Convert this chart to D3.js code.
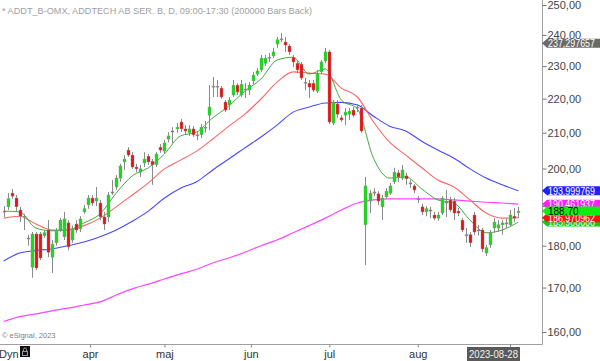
<!DOCTYPE html>
<html><head><meta charset="utf-8">
<script src="https://cdn.jsdelivr.net/npm/d3@7"></script>
<style>body{margin:0;background:#fff;} svg{display:block;font-family:"Liberation Sans",Arial,sans-serif;}</style>
</head><body><svg id="c" width="600" height="361"></svg>
<script>
const opens = [
188.5,189.8,193.4,192.1,189.0,187.4,181.7,174.8,182.9,182.9,
182.5,183.9,177.2,180.7,183.9,182.2,185.7,181.4,185.4,184.2,
188.5,190.3,192.1,191.3,190.8,187.2,187.2,193.4,195.0,197.4,
201.8,205.1,203.7,200.4,199.0,201.5,203.4,202.0,201.0,205.9,
204.8,208.2,210.2,211.1,213.1,211.1,210.0,211.1,209.4,209.4,
211.4,215.1,223.5,223.8,223.2,219.0,218.1,221.1,224.1,221.1,
222.9,222.6,225.4,227.5,228.8,230.9,232.5,233.2,237.0,238.4,
237.7,236.4,232.8,230.9,230.6,225.0,224.7,224.7,222.3,228.2,
231.6,234.5,212.8,218.4,214.3,215.1,215.4,216.6,217.2,217.2,
185.2,191.3,193.4,193.2,189.8,192.4,193.4,196.4,198.8,197.4,
198.0,196.1,195.3,191.9,189.8,188.5,189.0,187.7,186.9,188.2,
190.8,191.6,191.3,188.7,186.4,182.7,182.7,187.7,183.7,183.9,
178.2,180.2,184.4,184.4,185.2,185.4,185.2,187.4,188.3];
const highs = [
190.0,193.4,194.5,192.9,189.8,188.0,182.7,183.4,183.4,183.4,
183.7,186.4,181.4,184.4,186.9,188.5,186.4,185.0,186.4,187.4,
190.3,192.9,192.9,195.0,191.6,188.5,193.7,196.9,198.2,201.3,
203.7,205.9,204.5,201.3,201.0,204.5,204.0,202.6,204.5,206.8,
207.9,210.2,211.6,212.8,214.0,212.2,212.2,211.9,210.5,212.5,
213.4,224.1,226.6,225.7,223.8,219.6,220.5,225.7,224.7,225.7,
224.7,225.0,228.2,229.4,233.5,233.5,234.1,235.8,239.3,240.6,
239.3,237.0,233.5,231.9,231.3,226.3,225.7,225.7,228.8,231.9,
235.8,235.1,219.6,219.6,215.1,217.2,217.2,217.5,218.4,218.1,
197.7,194.2,194.7,193.9,192.9,194.7,196.1,200.2,199.6,201.0,
198.8,196.9,195.8,192.6,190.6,190.0,189.8,188.5,188.5,192.6,
194.2,192.4,192.1,189.5,186.9,184.4,183.4,188.5,185.2,184.4,
180.2,183.9,186.9,186.4,186.4,186.9,189.0,189.5,189.8];
const lows = [
187.2,189.0,191.9,188.5,185.9,183.9,180.0,172.3,174.1,176.5,
181.9,177.2,173.4,180.0,183.4,181.4,178.9,180.7,183.2,183.4,
188.0,189.3,190.0,190.0,186.4,183.9,185.9,192.9,194.2,196.4,
199.6,203.2,199.9,199.0,197.7,200.4,201.0,195.6,200.4,204.3,
204.0,207.3,207.1,210.0,210.2,209.4,209.1,208.8,207.9,208.5,
210.0,210.8,220.5,220.5,219.9,216.0,216.6,220.5,221.1,220.5,
220.2,221.1,224.4,226.9,228.2,230.0,231.3,232.5,235.8,237.7,
234.5,233.5,229.7,227.8,225.7,222.6,220.2,222.0,221.7,227.5,
230.9,212.5,212.2,214.3,213.1,212.2,213.7,214.5,216.0,210.0,
175.3,188.2,192.6,190.3,186.4,191.9,192.9,195.8,196.4,196.9,
195.6,194.7,193.4,190.8,187.7,187.4,186.9,186.4,186.2,187.7,
187.2,188.5,186.4,187.4,183.4,180.7,179.7,182.7,182.5,178.4,
177.5,179.5,183.2,183.4,182.7,184.4,184.7,185.9,186.9];
const closes = [
188.7,191.9,192.6,189.8,187.4,187.2,181.9,182.9,174.6,177.0,
183.2,178.4,180.4,183.7,186.4,186.7,179.7,184.2,183.9,186.7,
189.3,192.1,190.8,192.1,187.2,185.4,192.9,193.7,197.4,200.7,
202.6,203.7,200.4,199.9,199.9,202.6,201.8,201.0,204.0,205.1,
207.1,209.1,210.5,211.6,211.1,210.5,211.1,209.4,209.1,211.6,
211.6,217.5,223.8,223.5,220.5,216.6,219.6,224.1,222.0,224.4,
222.6,224.1,227.2,228.5,232.5,232.5,232.8,234.5,238.4,238.7,
236.7,234.5,231.3,228.8,226.3,224.7,223.5,222.6,227.8,231.3,
234.5,213.1,219.0,215.4,213.7,216.0,216.3,215.1,217.5,210.5,
195.3,193.4,193.7,191.3,192.1,193.9,195.3,199.0,197.7,199.6,
197.2,195.8,194.2,191.6,188.5,189.3,188.7,186.9,187.7,192.1,
191.1,189.0,188.2,188.2,183.9,182.5,180.7,183.4,183.9,179.2,
179.5,183.2,185.9,185.2,185.7,185.7,187.7,186.9,188.7];

// moving averages read at every 4th bar
const maIndex = [0,4,8,12,16,20,24,28,32,36,40,44,48,52,56,60,64,68,72,76,80,84,88,92,96,100,104,108,112,116,120,124,128];
const greenMA = [188.7,188.5,184.4,183.7,183.9,185.7,188.0,193.4,198.0,200.2,204.0,209.1,210.2,214.3,217.8,222.3,226.0,231.9,232.8,227.5,229.1,219.6,216.9,202.8,197.4,197.7,194.5,191.6,190.8,186.4,183.2,183.9,185.9];
const redMA = [186.9,187.4,185.4,183.9,183.9,185.0,186.9,189.8,192.9,196.1,199.9,202.3,204.8,208.2,211.9,215.4,219.9,225.0,228.2,227.8,227.5,223.2,220.5,213.1,207.3,203.7,200.2,196.9,195.0,191.6,188.2,186.9,187.0];
const blueMA = [176.3,178.2,178.8,179.2,180.0,180.9,182.2,183.9,186.1,188.7,192.1,194.7,196.4,199.6,202.6,205.7,208.8,212.2,216.0,217.5,218.7,218.9,218.1,214.8,211.9,210.5,207.6,205.1,202.8,199.9,197.4,195.6,194.0];
const magentaMA = [162.3,163.4,164.0,164.7,165.3,166.0,166.7,168.3,169.7,170.8,172.0,173.2,174.3,175.8,177.0,178.4,180.0,181.4,183.2,185.0,186.9,189.0,190.8,191.6,191.9,191.9,191.9,191.9,191.6,191.3,191.0,190.8,190.5];

const yTicks = [160,170,180,190,200,210,220,230,240,250];
const monthIdx = [21.5,40,61.5,81,103];
const monthLabels = ["apr","maj","jun","jul","aug"];
const lastDateLabel = "2023-08-28";
const titleText = "* ADDT_B-OMX, ADDTECH AB SER. B, D, 09:00-17:30 (200000 Bars Back)";
const markerValue = 237.297657;
const tagBlue = 193.999769, tagMagenta = 190.461937, tagPrice = 188.70, tagRed = 186.970962;

const svg = d3.select('#c');
const PR = 542, PB = 344;
const x = d3.scaleLinear().domain([-0.9, 133.9]).range([0, PR]);
const y = d3.scaleLog().domain([160, 250]).range([332, 5]);
const fmt = v => d3.format(".2f")(v).replace('.', ',');
const fmt6 = v => d3.format(".6f")(v).replace('.', ',');

svg.append('defs').append('clipPath').attr('id','clip').append('rect').attr('width',PR).attr('height',PB);
const plot = svg.append('g').attr('clip-path','url(#clip)');

// title
svg.append('text').attr('x',2).attr('y',13.5).attr('font-size',9.5).attr('fill','#a0a0a0')
  .attr('textLength',310).attr('lengthAdjust','spacingAndGlyphs').text(titleText);
svg.append('text').attr('x',2).attr('y',338).attr('font-size',7.5).attr('fill','#808080').text('\u00a9 eSignal, 2023');

const mkLine = vals => d3.line().x((d,i)=>x(maIndex[i])).y(d=>y(d)).curve(d3.curveMonotoneX)(vals);
plot.append('path').attr('d',mkLine(magentaMA)).attr('fill','none').attr('stroke','#ff44ff').attr('stroke-width',1.2);
plot.append('path').attr('d',mkLine(blueMA)).attr('fill','none').attr('stroke','#4646ff').attr('stroke-width',1.1);
plot.append('path').attr('d',mkLine(redMA)).attr('fill','none').attr('stroke','#ff6464').attr('stroke-width',1.1);
plot.append('path').attr('d',mkLine(greenMA)).attr('fill','none').attr('stroke','#2aa02a').attr('stroke-width',0.9);

// candles
const idx = opens.map((_,i)=>i);
const cg = plot.append('g');
cg.selectAll('line.w').data(idx).join('line')
  .attr('x1',i=>Math.round(x(i))+0.5).attr('x2',i=>Math.round(x(i))+0.5)
  .attr('y1',i=>y(highs[i])).attr('y2',i=>y(lows[i]))
  .attr('stroke','#8a8a8a').attr('stroke-width',1);
cg.selectAll('rect').data(idx).join('rect')
  .attr('x',i=>Math.round(x(i))-1)
  .attr('width',3)
  .attr('y',i=>Math.min(y(opens[i]),y(closes[i])))
  .attr('height',i=>Math.max(1,Math.abs(y(opens[i])-y(closes[i]))))
  .attr('fill',i=>Math.abs(closes[i]-opens[i])<0.35?'#7a7a7a':(closes[i]>opens[i]?'#10e010':'#ee1010'))
  .attr('stroke','#909090').attr('stroke-width',0.4);

// frame
svg.append('path').attr('d',`M0,${PB+0.5}H${PR+0.5}V0`).attr('fill','none').attr('stroke','#a0a0a0');

// y axis
const ya = svg.append('g').attr('transform',`translate(${PR+0.5},0)`)
  .call(d3.axisRight(y).tickValues(yTicks).tickFormat(fmt).tickSize(4).tickPadding(1));
ya.select('.domain').remove();
ya.selectAll('line').attr('stroke','#777');
ya.selectAll('text').attr('font-size',11).attr('fill','#444').attr('font-family','"Liberation Sans",Arial,sans-serif');

// x axis
const xa = svg.append('g').attr('transform',`translate(0,${PB+0.5})`)
  .call(d3.axisBottom(x).tickValues(monthIdx).tickFormat((d,i)=>monthLabels[i]).tickSize(3).tickPadding(3));
xa.select('.domain').remove();
xa.selectAll('line').attr('stroke','#888');
xa.selectAll('text').attr('font-size',11).attr('fill','#333').attr('font-family','"Liberation Sans",Arial,sans-serif');
svg.append('line').attr('x1',Math.round(x(126))+0.5).attr('x2',Math.round(x(126))+0.5).attr('y1',PB).attr('y2',PB+3).attr('stroke','#888');

// date box
const dbR = Math.round(x(opens.length-1))+2;
svg.append('rect').attr('x',dbR-53).attr('y',347).attr('width',53).attr('height',14).attr('fill','#5a5a5a');
svg.append('text').attr('x',dbR-51).attr('y',358).attr('font-size',10.5).attr('fill','#f0f0f0')
  .attr('textLength',49).attr('lengthAdjust','spacingAndGlyphs').text(lastDateLabel);

// Dyn + lock
svg.append('text').attr('x',-1).attr('y',358).attr('font-size',11).attr('fill','#333').text('Dyn');
svg.append('rect').attr('x',20).attr('y',346).attr('width',10).attr('height',11).attr('fill','#111');
svg.append('rect').attr('x',22.5).attr('y',351.5).attr('width',5).attr('height',4).attr('fill','none').attr('stroke','#999').attr('stroke-width',1);
svg.append('path').attr('d','M23.5,351.5V349.5a1.5,1.5 0 0 1 3,0V351.5').attr('fill','none').attr('stroke','#999');

// price tags
function tag(v, bg, fg, txt){
  const cy = y(v), h = 9;
  const g = svg.append('g');
  g.append('path').attr('d',`M${PR},${cy}L${PR+5},${cy-h/2}H600V${cy+h/2}H${PR+5}Z`).attr('fill',bg);
  const t = g.append('text').attr('x',PR+6).attr('y',cy+3.8).attr('font-size',10).attr('fill',fg).text(txt);
  if (txt.length > 7) t.attr('textLength',47).attr('lengthAdjust','spacingAndGlyphs');
}
tag(markerValue,'#6a6a6a','#fff',fmt6(markerValue));
tag(tagBlue,'#2020ff','#fff',fmt6(tagBlue));
tag(tagMagenta,'#ff20ff','#fff',fmt6(tagMagenta));
tag(greenMA[greenMA.length-1],'#10cc10','#fff',fmt6(greenMA[greenMA.length-1]));
tag(tagRed,'#ff1010','#fff',fmt6(tagRed));
tag(tagPrice,'#10ee10','#000',fmt(tagPrice));
</script></body></html>
